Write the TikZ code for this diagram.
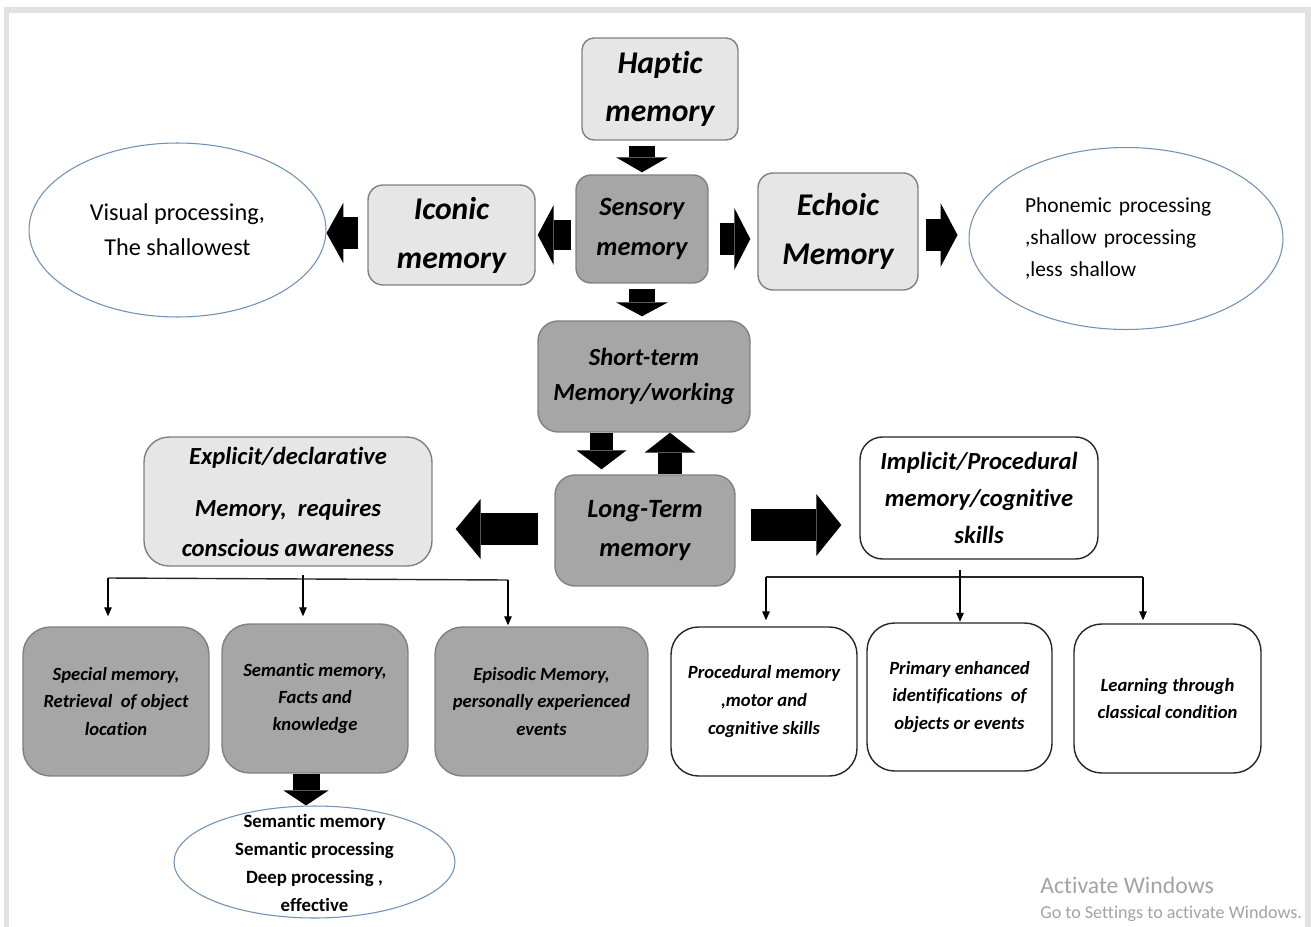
\documentclass[tikz,border=0pt]{standalone}
\usepackage{fontspec}
\setmainfont{Carlito}[Ligatures=NoCommon]
\usetikzlibrary{arrows.meta,shapes.geometric}
\definecolor{lightfill}{HTML}{E6E6E6}
\definecolor{darkfill}{HTML}{A6A6A6}
\definecolor{boxedge}{HTML}{808080}
\definecolor{elledge}{HTML}{7090B5}
\definecolor{framec}{HTML}{E2E2E2}
\definecolor{wmark}{HTML}{A3A3A3}
\newcommand\myfont[2]{\fontsize{#1}{#2}\selectfont\bfseries\itshape}
\newcommand\myreg[2]{\fontsize{#1}{#2}\selectfont}
\newcommand\mybold[2]{\fontsize{#1}{#2}\selectfont\bfseries}
\tikzset{
  bx/.style={rectangle, inner sep=0pt, align=center, line width=0.8pt},
  lbox/.style={bx, fill=lightfill, draw=boxedge},
  dbox/.style={bx, fill=darkfill, draw=boxedge},
  wbox/.style={bx, fill=white, draw=black!85},
  ell/.style={ellipse, inner sep=0pt, draw=elledge, line width=0.6pt, fill=white},
  blk/.style n args={3}{draw=black, line width=#1, -{Triangle[width=#2,length=#3,line width=0pt]}},
  thinarr/.style={draw=black, line width=0.7pt, -{Triangle[width=0.15cm,length=0.18cm]}},
  barline/.style={draw=black!85, line width=0.8pt}
}
\begin{document}
\begin{tikzpicture}[x=0.02cm,y=-0.02cm]
\useasboundingbox (0,0) rectangle (1311,926);
% frame
\draw[framec, line width=0.11cm] (6.5,935) -- (6.5,10) -- (1308,10) -- (1308,935);

% top sensory level
\node[lbox, rounded corners=0.24cm, minimum width=3.12cm, minimum height=2.04cm, font=\myfont{18}{27}] (haptic) at (660,89) {Haptic\\memory};
\node[dbox, rounded corners=0.3cm, minimum width=2.64cm, minimum height=2.16cm, font=\myfont{15}{22.7}] (sensory) at (642,229) {Sensory\\memory};
\node[lbox, rounded corners=0.3cm, minimum width=3.34cm, minimum height=2.0cm, font=\myfont{18}{28}] (iconic) at (451.5,235) {Iconic\\memory};
\node[lbox, rounded corners=0.3cm, minimum width=3.2cm, minimum height=2.34cm, font=\myfont{18}{28}] (echoic) at (838,231.5) {Echoic\\Memory};
\node[ell, minimum width=5.94cm, minimum height=3.48cm, align=center, font=\myreg{13.8}{20}] (ellL) at (177.5,230) {Visual processing,\\The shallowest};
\node[ell, minimum width=6.28cm, minimum height=3.64cm, align=left, text width=4.04cm, font=\myreg{12.2}{18}] (ellR) at (1126,238.5) {Phonemic processing\\,shallow processing\\,less shallow};

% short / long term
\node[dbox, rounded corners=0.4cm, minimum width=4.24cm, minimum height=2.22cm, font=\myfont{14}{20.4}] (short) at (644,376.5) {Short-term\\Memory/working};
\node[dbox, rounded corners=0.4cm, minimum width=3.6cm, minimum height=2.22cm, font=\myfont{15}{22.7}] (long) at (645,530.5) {Long-Term\\memory};

% explicit / implicit
\node[lbox, rounded corners=0.5cm, minimum width=5.76cm, minimum height=2.58cm, font=\myfont{14}{22.7}] (explicit) at (288,501.5) {Explicit/declarative\\[7pt]Memory,~ requires\\conscious awareness};
\node[wbox, rounded corners=0.45cm, minimum width=4.76cm, minimum height=2.44cm, font=\myfont{14}{21}] (implicit) at (979,498) {Implicit/Procedural\\memory/cognitive\\skills};

% bottom boxes
\node[dbox, rounded corners=0.55cm, minimum width=3.72cm, minimum height=2.98cm, font=\myfont{10.6}{15.5}] (special) at (116,701.5) {Special memory,\\Retrieval~ of object\\location};
\node[dbox, rounded corners=0.55cm, minimum width=3.72cm, minimum height=2.98cm, font=\myfont{10.6}{15.5}] (semantic) at (315,698.5) {Semantic memory,\\Facts and\\knowledge};
\node[dbox, rounded corners=0.55cm, minimum width=4.26cm, minimum height=2.98cm, font=\myfont{10.6}{15.5}] (episodic) at (541.5,701.5) {Episodic Memory,\\personally experienced\\events};
\node[wbox, rounded corners=0.55cm, minimum width=3.72cm, minimum height=2.98cm, font=\myfont{10.6}{15.8}] (procedural) at (764,701.5) {Procedural memory\\,motor and\\cognitive skills};
\node[wbox, rounded corners=0.55cm, minimum width=3.70cm, minimum height=2.96cm, font=\myfont{10.6}{15.8}] (primary) at (959.5,697) {Primary enhanced\\identifications~ of\\objects or events};
\node[wbox, rounded corners=0.55cm, minimum width=3.74cm, minimum height=2.98cm, font=\myfont{10.6}{15.8}] (learning) at (1167.5,698.5) {Learning through\\classical condition};

% bottom ellipse
\node[ell, minimum width=5.62cm, minimum height=2.24cm] (ellB) at (314.5,862) {};
\node[align=center, inner sep=0pt, font=\mybold{10.7}{15.9}] (ellBtext) at (314.5,863) {Semantic memory\\Semantic processing\\Deep processing ,\\effective};

% block arrows
\draw[blk={0.52cm}{1.04cm}{0.3cm}, shorten <=0.1cm, shorten >=0.04cm] (sensory.north |- haptic.south) -- (sensory.north);
\draw[blk={0.6cm}{1.2cm}{0.32cm}, shorten <=0.08cm, shorten >=0.04cm] (sensory.west |- iconic.east) -- (iconic.east);
\draw[blk={0.64cm}{1.24cm}{0.32cm}, shorten <=0.22cm, shorten >=0.14cm] (sensory.east |- 0,239) -- (echoic.west |- 0,239);
\draw[blk={0.66cm}{1.22cm}{0.34cm}, shorten <=0.18cm] (iconic.west |- 0,233) -- (ellL.east |- 0,233);
\draw[blk={0.64cm}{1.28cm}{0.34cm}, shorten <=0.14cm, shorten >=0.22cm] (echoic.east |- 0,235) -- (ellR.west |- 0,235);
\draw[blk={0.52cm}{1.04cm}{0.28cm}, shorten <=0.1cm, shorten >=0.08cm] (sensory.south) -- (sensory.south |- short.north);
\draw[blk={0.46cm}{1.0cm}{0.38cm}, shorten >=0.1cm] (short.south -| 601.5,0) -- (long.north -| 601.5,0);
\draw[blk={0.48cm}{1.02cm}{0.4cm}] (long.north -| 670,0) -- (short.south -| 670,0);
\draw[blk={0.64cm}{1.2cm}{0.5cm}, shorten <=0.32cm, shorten >=0.46cm] (long.west |- 0,529) -- (explicit.east |- 0,529);
\draw[blk={0.64cm}{1.24cm}{0.5cm}, shorten <=0.3cm, shorten >=0.36cm] (long.east |- 0,525) -- (implicit.west |- 0,525);
\draw[blk={0.54cm}{0.9cm}{0.3cm}] (semantic.south -| 306,0) -- (ellB.north -| 306,0);

% left bracket
\coordinate (lbL) at (108,578);
\coordinate (lbM) at (303,575);
\coordinate (lbR) at (508,580);
\draw[barline] (lbL) -- (lbR);
\draw[thinarr, shorten >=0.2cm] (lbL) -- (lbL |- special.north);
\draw[thinarr, shorten >=0.14cm] (lbM) -- (lbM |- semantic.north);
\draw[thinarr, shorten >=0.02cm] (lbR) -- (lbR |- episodic.north);

% right bracket
\coordinate (rbL) at (766,577);
\coordinate (rbM) at (960,570);
\coordinate (rbR) at (1143,577);
\draw[barline] (rbL) -- (rbR);
\draw[thinarr, shorten >=0.12cm] (rbL) -- (rbL |- procedural.north);
\draw[thinarr, shorten >=0.01cm] (rbM) -- (rbM |- primary.north);
\draw[thinarr, shorten >=0.06cm] (rbR) -- (rbR |- learning.north);

% watermark
\node[anchor=west, inner sep=0pt, text=wmark, font=\myreg{13.5}{16}] (wm1) at (1040,885) {Activate Windows};
\node[anchor=west, inner sep=0pt, text=wmark, font=\myreg{10.3}{12}] (wm2) at (1040,914) {Go to Settings to activate Windows.};
\end{tikzpicture}
\end{document}
